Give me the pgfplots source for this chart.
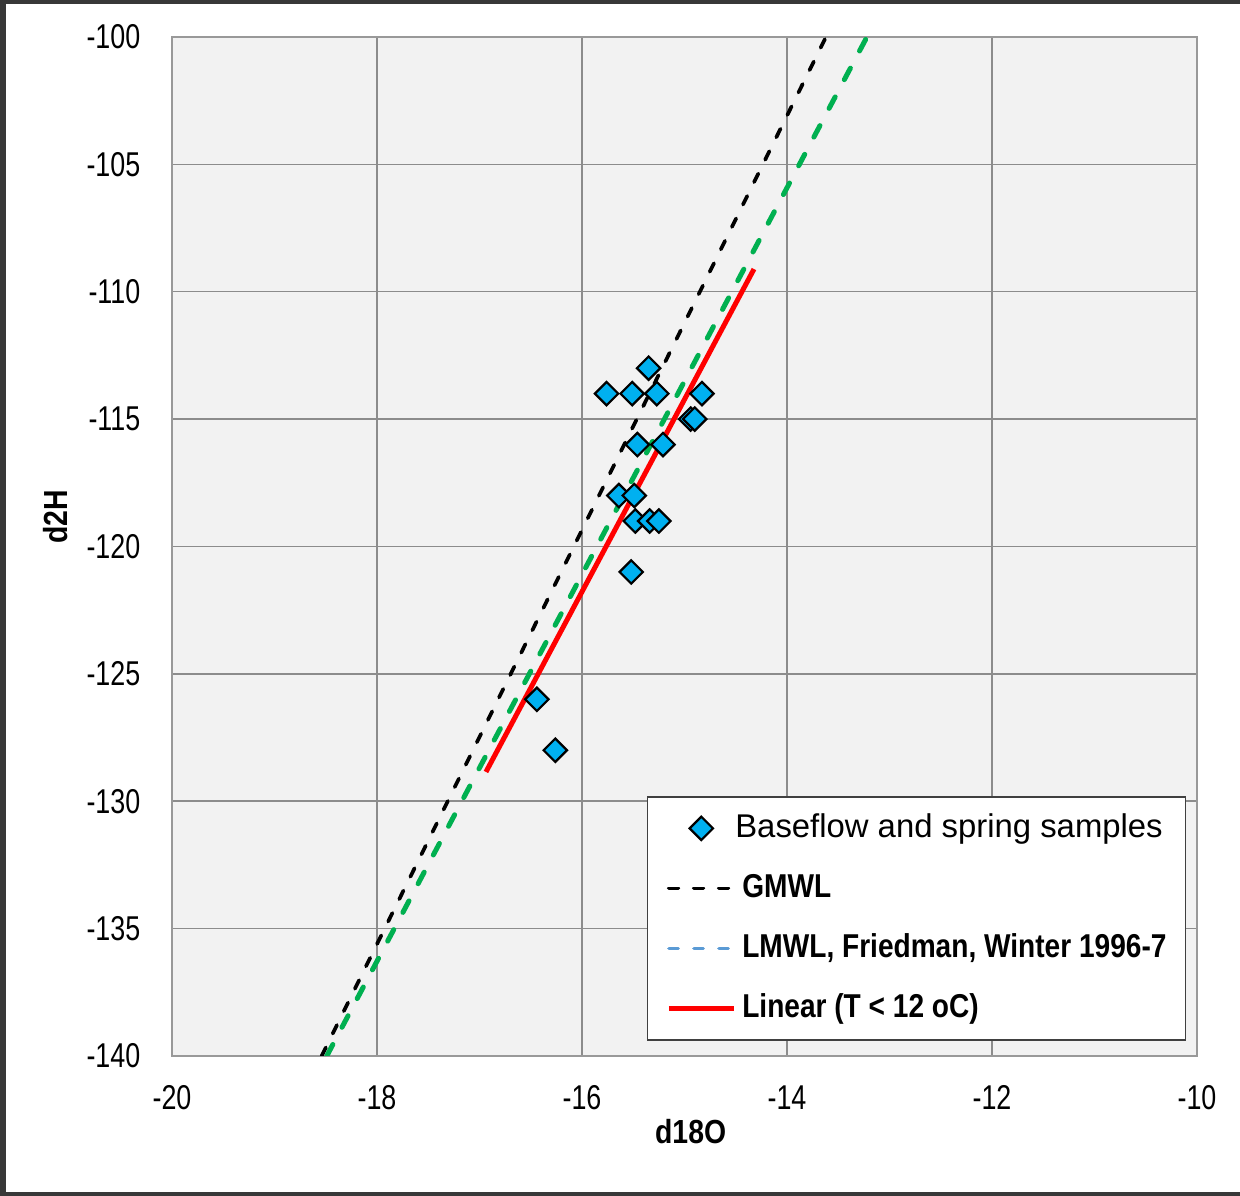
\documentclass[border=0pt]{standalone}
\usepackage{fontspec}
\setmainfont{Liberation Sans}
\newfontfamily\tickfont[FakeStretch=0.78]{Liberation Sans}
\newfontfamily\narrowfont[FakeStretch=0.85]{Liberation Sans}
\usepackage{pgfplots}
\pgfplotsset{compat=1.18}
\definecolor{plotbg}{HTML}{F2F2F2}
\definecolor{framegray}{HTML}{383838}
\definecolor{gridgray}{HTML}{8C8C8C}
\definecolor{cyanfill}{HTML}{00B0F0}
\definecolor{xlgreen}{HTML}{00B050}
\definecolor{xlblue}{HTML}{5B9BD5}
\definecolor{legendgray}{HTML}{404040}
\begin{document}
\begin{tikzpicture}
\path[use as bounding box] (0,0) rectangle (124mm,119.6mm);
\fill[white] (0,0) rectangle (124mm,119.6mm);
\fill[framegray] (0,0) rectangle (0.6mm,119.6mm);
\fill[framegray] (0,119.15mm) rectangle (124mm,119.6mm);
\fill[framegray] (0,0) rectangle (124mm,0.4mm);
\begin{axis}[
  at={(17.2mm,14.0mm)}, anchor=south west,
  scale only axis, width=102.5mm, height=101.9mm,
  xmin=-20, xmax=-10, ymin=-140, ymax=-100,
  xtick={-20,-18,...,-10}, ytick={-140,-135,...,-100},
  grid=major,
  major grid style={draw=gridgray, line width=0.15mm},
  major tick length=0pt,
  axis background/.style={fill=plotbg},
  axis line style={draw=black!40, line width=0.2mm},
  /pgf/number format/assume math mode=true,
  ticklabel style={font=\tickfont\fontsize{9.8}{11}\selectfont},
  xticklabel style={anchor=north, inner sep=0pt, yshift=-2.9mm},
  yticklabel style={anchor=east, inner sep=0pt, xshift=-3.1mm},
  xlabel={d18O}, ylabel={d2H},
  every axis x label/.style={at={(0.506,-0.0743)}, anchor=center, font=\narrowfont\bfseries\fontsize{9.5}{11}\selectfont},
  every axis y label/.style={at={(-0.114,0.529)}, rotate=90, anchor=center, font=\narrowfont\bfseries\fontsize{9.5}{11}\selectfont},
  legend image code/.code={\draw[mark repeat=2,mark phase=2,#1] plot coordinates {(0mm,0mm) (3.25mm,0mm) (6.5mm,0mm)};},
  legend cell align=left,
  legend style={at={(0.463,0.255)}, anchor=north west, draw=legendgray, line width=0.15mm, fill=white,
    inner xsep=1.9mm, inner ysep=1.45mm, row sep=2.6mm,
    nodes={inner sep=0pt, text height=2.6mm, text depth=0.8mm},
    font=\narrowfont\bfseries\fontsize{9.4}{11}\selectfont,
    /tikz/every odd column/.append style={column sep=0.6mm}},
]
\addplot[only marks, mark=square*, mark size=2.35pt,
  mark options={rotate=45, fill=cyanfill, draw=black, line width=0.22mm}] coordinates {
  (-15.35,-113) (-15.76,-114) (-15.51,-114) (-15.27,-114) (-14.83,-114)
  (-14.94,-115) (-14.90,-115) (-15.46,-116) (-15.21,-116)
  (-15.64,-118) (-15.49,-118) (-15.48,-119) (-15.34,-119) (-15.25,-119)
  (-15.52,-121) (-16.44,-126) (-16.26,-128)
};
\addlegendentry{\normalfont\fontsize{9.35}{11}\selectfont\hspace*{-0.7mm}Baseflow and spring samples}
\addplot[black, line width=0.37mm, line cap=round, dash pattern=on 0.95mm off 1.55mm] coordinates {(-18.54,-140) (-13.62,-100)};
\addlegendentry{GMWL}
\addplot[forget plot, xlgreen, line width=0.5mm, line cap=round, dash pattern=on 1.3mm off 1.95mm] coordinates {(-18.49,-140) (-13.22,-100)};
\addlegendimage{xlblue, line width=0.32mm, line cap=round, dash pattern=on 0.95mm off 1.55mm}
\addlegendentry{LMWL, Friedman, Winter 1996-7}
\addplot[red, line width=0.5mm] coordinates {(-16.937,-128.85) (-14.322,-109.11)};
\addlegendentry{Linear (T < 12 oC)}
\end{axis}
\end{tikzpicture}
\end{document}
